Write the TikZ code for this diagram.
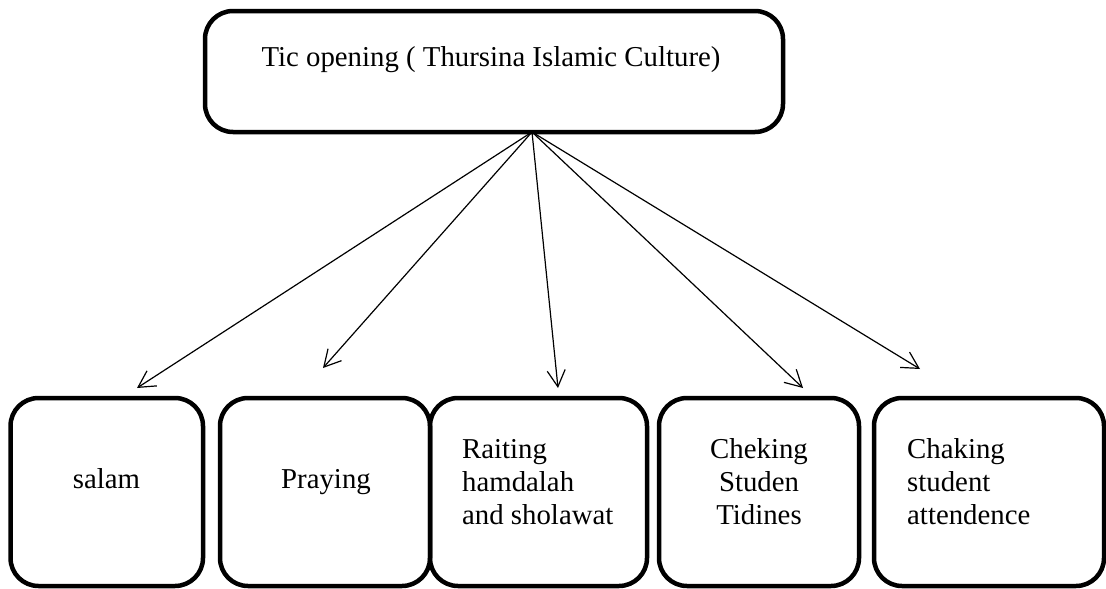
\documentclass[tikz,border=0pt]{standalone}
\usepackage{fontspec}
\setmainfont{Liberation Serif}
\usetikzlibrary{arrows.meta}
\begin{document}
\begin{tikzpicture}[x=1pt,y=-1pt,
  box/.style={draw, line width=4.5pt, rounded corners=28pt, inner sep=0pt, outer sep=0pt},
  lbl/.style={font=\fontsize{28.8}{33.5}\selectfont, inner sep=0pt, anchor=base},
  link/.style={line width=1.2pt, -{Straight Barb[length=16.5pt,width=18pt,line width=1.2pt]}}]
\useasboundingbox (0,0) rectangle (1106,589);

% heading box
\node[box, minimum width=578pt, minimum height=121pt] (top) at (494,71.5) {};
\node[lbl] (toptext) at (491,66) {Tic opening ( Thursina Islamic Culture)};

% the five steps
\node[box, minimum width=192.5pt, minimum height=188pt] (b1) at (106.75,492) {};
\node[box, minimum width=210pt, minimum height=188pt] (b2) at (325,492) {};
\node[box, minimum width=217pt, minimum height=188pt] (b3) at (538.5,492) {};
\node[box, minimum width=200pt, minimum height=188pt] (b4) at (759,492) {};
\node[box, minimum width=230pt, minimum height=188pt] (b5) at (989,492) {};

\node[lbl] (t1) at (106.5,488) {salam};
\node[lbl] (t2) at (326,488) {Praying};
\node[lbl, anchor=base west] (t3a) at (462,458) {Raiting};
\node[lbl, anchor=base west] (t3b) at (462,491) {hamdalah};
\node[lbl, anchor=base west] (t3c) at (462,524.5) {and sholawat};
\node[lbl] (t4a) at (759,458) {Cheking};
\node[lbl] (t4b) at (759,491) {Studen};
\node[lbl] (t4c) at (759,524.5) {Tidines};
\node[lbl, anchor=base west] (t5a) at (907,458) {Chaking};
\node[lbl, anchor=base west] (t5b) at (907,491) {student};
\node[lbl, anchor=base west] (t5c) at (907,524.5) {attendence};

% fan of arrows
\coordinate (src) at (532,132);
\coordinate (e1) at (137,388);
\coordinate (e2) at (323,368);
\coordinate (e3) at (558,388);
\coordinate (e4) at (803,388);
\coordinate (e5) at (920,369);
\foreach \e in {e1,e2,e3,e4,e5}
  \draw[link] (src) -- (\e);
\end{tikzpicture}
\end{document}
